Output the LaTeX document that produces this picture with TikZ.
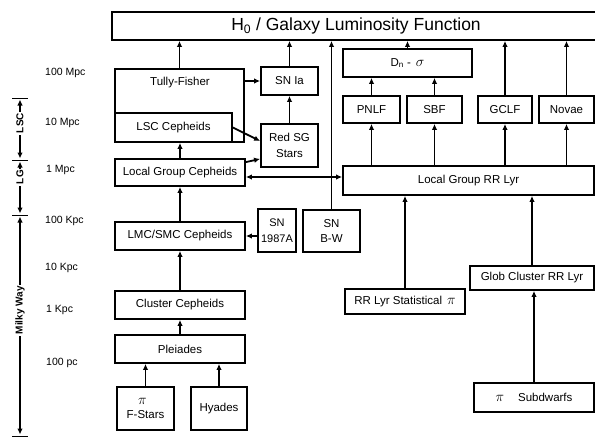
\documentclass[tikz,border=0pt]{standalone}
\usepackage{fontspec}
\setmainfont{Liberation Sans}
\usetikzlibrary{arrows.meta,calc}
\newcommand{\mypi}{{\fontsize{15}{15}\selectfont$\pi$}}
\tikzset{
  box/.style={draw, line width=1.8pt, inner sep=0pt, align=center,
    font=\fontsize{11.5}{15.5}\selectfont},
  arr/.style={line width=1.8pt, -{Latex[length=6pt,width=5.5pt]}},
  darr/.style={line width=1.8pt, {Latex[length=6pt,width=5.5pt]}-{Latex[length=6pt,width=5.5pt]}},
  dist/.style={anchor=west, inner sep=0pt, font=\fontsize{10.5}{12}\selectfont},
  axlab/.style={fill=white, rotate=90, inner sep=1.5pt, font=\bfseries\fontsize{10}{12}\selectfont},
  tick/.style={line width=0.8pt}
}
\begin{document}
\begin{tikzpicture}[x=1pt,y=-1pt]
\useasboundingbox (0,0) rectangle (595,437);
\clip (0,0) rectangle (595,437);
% top
\node[box, minimum width=488pt, minimum height=28pt, font=\fontsize{17.5}{19}\selectfont] (h0) at (356,26) {H\textsubscript{0} / Galaxy Luminosity Function};
% left column
\node[box, minimum width=129pt, minimum height=73pt] (tf) at (179.5,105.5) {};
\node[font=\fontsize{11.5}{13}\selectfont, inner sep=0pt] (tftext) at (180,83) {Tully-Fisher};
\node[box, minimum width=117pt, minimum height=29pt] (lscc) at (173.5,127.5) {LSC Cepheids};
\node[box, minimum width=57pt, minimum height=28pt] (snia) at (289.5,81) {SN Ia};
\node[box, minimum width=57pt, minimum height=43pt] (rsg) at (289.5,145.5) {Red SG\\Stars};
\node[box, minimum width=130pt, minimum height=27pt] (lgc) at (180,172.5) {Local Group Cepheids};
\node[box, minimum width=130pt, minimum height=28pt] (lmc) at (180,236) {LMC/SMC Cepheids};
\node[box, minimum width=38pt, minimum height=43pt, font=\fontsize{11}{15.5}\selectfont] (sn87) at (277,230.5) {SN\\1987A};
\node[box, minimum width=57pt, minimum height=42pt] (snbw) at (331.5,231) {SN\\B-W};
\node[box, minimum width=130pt, minimum height=28pt] (clc) at (180,305) {Cluster Cepheids};
\node[box, minimum width=130pt, minimum height=28pt] (ple) at (180,349) {Pleiades};
\node[box, minimum width=57pt, minimum height=43pt] (fst) at (145.5,408.5) {\hspace*{-6pt}\mypi\\[-2pt]F-Stars};
\node[box, minimum width=56pt, minimum height=43pt] (hya) at (219,408.5) {Hyades};
% right column
\node[box, minimum width=129pt, minimum height=28pt] (dns) at (407.5,63) {D\textsubscript{n} -\, {\fontsize{15}{15}\selectfont$\sigma$}};
\node[box, minimum width=57pt, minimum height=27pt] (pnlf) at (371.5,109.5) {PNLF};
\node[box, minimum width=55pt, minimum height=27pt] (sbf) at (434.5,109.5) {SBF};
\node[box, minimum width=54pt, minimum height=27pt] (gclf) at (505,109.5) {GCLF};
\node[box, minimum width=55pt, minimum height=27pt] (nov) at (566.5,109.5) {Novae};
\node[box, minimum width=251pt, minimum height=29pt] (lgrr) at (468.5,180.5) {Local Group RR Lyr};
\node[box, minimum width=120pt, minimum height=25pt] (rrs) at (405,301.5) {RR Lyr Statistical \,\mypi};
\node[box, minimum width=124pt, minimum height=24pt] (gcrr) at (532,278) {Glob Cluster RR Lyr};
\node[box, minimum width=120pt, minimum height=29pt] (sub) at (534,397.5) {\mypi\hspace{14pt}Subdwarfs};
% connectors left
\draw[arr] (tf.north) -- (tf.north |- h0.south);
\draw[arr] (snia.north) -- (snia.north |- h0.south);
\draw[arr] (tf.east |- snia.west) -- (snia.west);
\draw[arr] (rsg.north) -- (snia.south);
\draw[arr] (lscc.east) -- ([yshift=4.5pt]rsg.west);
\draw[arr] ([yshift=-4pt]lgc.north east) -- ([yshift=9pt]rsg.south west);
\draw[arr] (lgc.north) -- (lgc.north |- lscc.south);
\draw[darr] ([yshift=-4.5pt]lgc.east) -- ([yshift=-4.5pt]lgc.east -| lgrr.west);
\draw[arr] (snbw.north) -- (snbw.north |- h0.south);
\draw[arr] (lmc.north) -- (lgc.south);
\draw[arr] (sn87.west |- lmc.east) -- (lmc.east);
\draw[arr] (clc.north) -- (lmc.south);
\draw[arr] (ple.north) -- (clc.south);
\draw[arr] (fst.north) -- (fst.north |- ple.south);
\draw[arr] (hya.north) -- (hya.north |- ple.south);
% connectors right
\draw[arr] (dns.north) -- (dns.north |- h0.south);
\draw[arr] (pnlf.north) -- (pnlf.north |- dns.south);
\draw[arr] (sbf.north) -- (sbf.north |- dns.south);
\draw[arr] (gclf.north) -- (gclf.north |- h0.south);
\draw[arr] (nov.north) -- (nov.north |- h0.south);
\draw[arr] (pnlf.south |- lgrr.north) -- (pnlf.south);
\draw[arr] (sbf.south |- lgrr.north) -- (sbf.south);
\draw[arr] (gclf.south |- lgrr.north) -- (gclf.south);
\draw[arr] (nov.south |- lgrr.north) -- (nov.south);
\draw[arr] (rrs.north) -- (rrs.north |- lgrr.south);
\draw[arr] (gcrr.north) -- (gcrr.north |- lgrr.south);
\draw[arr] (sub.north) -- (sub.north |- gcrr.south);
% distance labels
\node[dist] (d1) at (45,73) {100 Mpc};
\node[dist] (d2) at (45,123) {10 Mpc};
\node[dist] (d3) at (46,170) {1 Mpc};
\node[dist] (d4) at (45,221) {100 Kpc};
\node[dist] (d5) at (45,268) {10 Kpc};
\node[dist] (d6) at (46,310) {1 Kpc};
\node[dist] (d7) at (46,363) {100 pc};
% axis
\coordinate (t1) at (20,98);
\coordinate (t2) at (20,160);
\coordinate (t3) at (20,215);
\coordinate (t4) at (20,436);
\foreach \t in {t1,t2,t3,t4} \draw[tick] ([xshift=-8pt]\t) -- ([xshift=8pt]\t);
\draw[darr] ([yshift=-1.5pt]t1) -- ([yshift=1.5pt]t2) node[axlab, pos=0.4] {LSC};
\draw[darr] ([yshift=-1.5pt]t2) -- ([yshift=1.5pt]t3) node[axlab, pos=0.3] {LG};
\draw[darr] ([yshift=-1.5pt]t3) -- ([yshift=1.5pt]t4) node[axlab, pos=0.43] {Milky Way};
\end{tikzpicture}
\end{document}
